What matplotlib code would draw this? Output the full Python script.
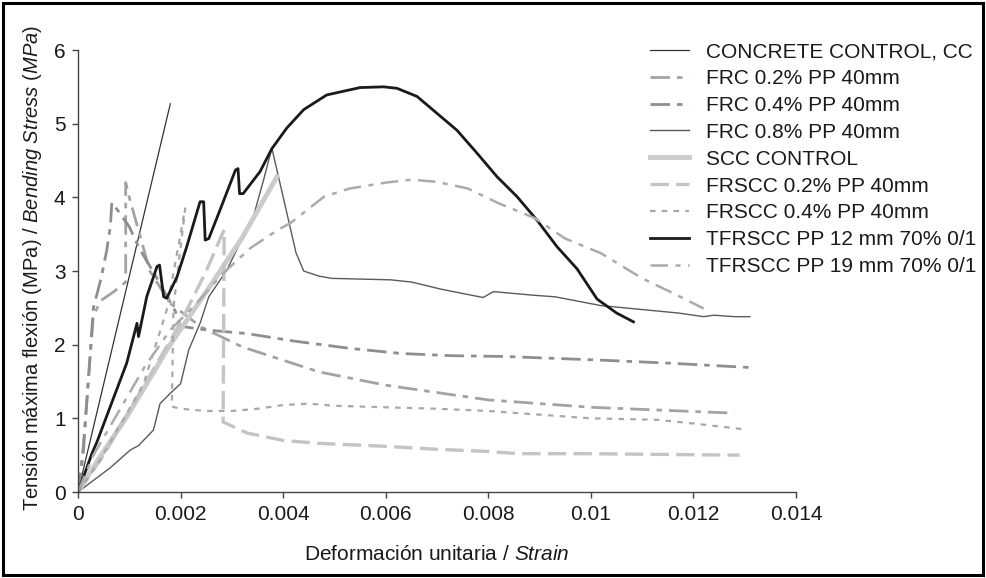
import matplotlib
matplotlib.use("Agg")
import matplotlib.pyplot as plt
from matplotlib.patches import Rectangle

plt.rcParams['font.family'] = ['Liberation Sans', 'DejaVu Sans']
plt.rcParams['mathtext.fontset'] = 'custom'
plt.rcParams['mathtext.rm'] = 'Liberation Sans'
plt.rcParams['mathtext.it'] = 'Liberation Sans:italic'

# ---------------- data ----------------
series_labels = ["CONCRETE CONTROL, CC", "FRC 0.2% PP 40mm", "FRC 0.4% PP 40mm",
                 "FRC 0.8% PP 40mm", "SCC CONTROL", "FRSCC 0.2% PP 40mm",
                 "FRSCC 0.4% PP 40mm", "TFRSCC PP 12 mm 70% 0/1", "TFRSCC PP 19 mm 70% 0/1"]

cc_x = [0, 0.0018]
cc_y = [0, 5.27]

frc02_x = [0, 0.0001, 0.0002, 0.0003, 0.00045, 0.0007, 0.00093, 0.00093, 0.001, 0.0012,
           0.0014, 0.0018, 0.0024, 0.0032, 0.0047, 0.006, 0.008, 0.010, 0.0128]
frc02_y = [0, 0.6, 1.5, 2.4, 2.6, 2.72, 2.85, 4.2, 4.0, 3.5,
           3.0, 2.56, 2.24, 1.97, 1.63, 1.45, 1.25, 1.15, 1.07]

frc04_x = [0, 0.0001, 0.00018, 0.00025, 0.0003, 0.00045, 0.00056, 0.00063, 0.00066, 0.0008,
           0.001, 0.0012, 0.0015, 0.0017, 0.0019, 0.002, 0.0025, 0.0033, 0.0042, 0.0053,
           0.0063, 0.0073, 0.0083, 0.0102, 0.0115, 0.0131]
frc04_y = [0, 0.5, 1.3, 2.0, 2.5, 2.9, 3.28, 3.6, 3.93, 3.8,
           3.6, 3.3, 2.95, 2.7, 2.45, 2.25, 2.2, 2.15, 2.05, 1.95,
           1.88, 1.85, 1.84, 1.79, 1.75, 1.69]

frc08_x = [0, 0.00063, 0.00102, 0.00118, 0.00147, 0.0016, 0.0018, 0.002, 0.00216, 0.00238,
           0.00255, 0.0029, 0.00316, 0.00342, 0.00362, 0.00378, 0.00425, 0.0044, 0.0047, 0.00495,
           0.0061, 0.0065, 0.0071, 0.0079, 0.0081, 0.0089, 0.0093, 0.0102, 0.0108, 0.0117,
           0.0122, 0.0124, 0.0128, 0.0131]
frc08_y = [0, 0.33, 0.57, 0.63, 0.84, 1.2, 1.34, 1.47, 1.93, 2.29,
           2.65, 3.01, 3.38, 3.74, 4.24, 4.67, 3.25, 3.0, 2.93, 2.90,
           2.88, 2.85, 2.75, 2.64, 2.72, 2.67, 2.65, 2.53, 2.49, 2.43,
           2.38, 2.40, 2.38, 2.38]

scc_x = [0, 0.00043, 0.00095, 0.00154, 0.00173, 0.00258, 0.0032, 0.00388]
scc_y = [0, 0.48, 1.02, 1.70, 1.93, 2.80, 3.45, 4.28]

frscc02_x = [0, 0.0005, 0.001, 0.0015, 0.002, 0.0025, 0.00285, 0.00283, 0.0033, 0.004,
             0.0047, 0.006, 0.007, 0.008, 0.0086, 0.010, 0.0129]
frscc02_y = [0, 0.5, 1.1, 1.7, 2.3, 3.0, 3.56, 0.95, 0.80, 0.70,
             0.66, 0.62, 0.58, 0.55, 0.52, 0.52, 0.50]

frscc04_x = [0, 0.00043, 0.00128, 0.00173, 0.00209, 0.00186, 0.00183, 0.002, 0.0025, 0.003,
             0.0035, 0.004, 0.0045, 0.005, 0.006, 0.007, 0.008, 0.009, 0.010, 0.0113,
             0.012, 0.013]
frscc04_y = [0, 0.43, 1.47, 2.47, 3.85, 2.5, 1.16, 1.13, 1.10, 1.10,
             1.13, 1.18, 1.20, 1.17, 1.15, 1.13, 1.10, 1.05, 1.0, 0.98,
             0.93, 0.85]

tf12_x = [0, 0.00011, 0.00027, 0.00037, 0.0007, 0.00095, 0.00115, 0.00118, 0.00134, 0.00154,
          0.00159, 0.00167, 0.00173, 0.00193, 0.00212, 0.00238, 0.00245, 0.00248, 0.00255, 0.00277,
          0.00307, 0.00312, 0.00315, 0.00322, 0.00355, 0.00378, 0.00407, 0.0044, 0.00485, 0.0055,
          0.00596, 0.00622, 0.00661, 0.007, 0.00739, 0.00778, 0.00817, 0.00856, 0.00895, 0.00934,
          0.00973, 0.01012, 0.0105, 0.01083]
tf12_y = [0, 0.21, 0.52, 0.68, 1.29, 1.75, 2.29, 2.11, 2.65, 3.06,
          3.08, 2.65, 2.63, 2.92, 3.33, 3.94, 3.94, 3.42, 3.44, 3.83,
          4.37, 4.39, 4.05, 4.05, 4.35, 4.66, 4.94, 5.19, 5.39, 5.49,
          5.50, 5.48, 5.37, 5.14, 4.91, 4.60, 4.28, 4.01, 3.69, 3.33,
          3.03, 2.62, 2.43, 2.31]

tf19_x = [0, 0.0003, 0.0008, 0.0013, 0.0018, 0.0023, 0.0028, 0.00336, 0.0039, 0.00414,
          0.0048, 0.0053, 0.006, 0.0065, 0.007, 0.0076, 0.0082, 0.0089, 0.0095, 0.0102,
          0.011, 0.0116, 0.0122]
tf19_y = [0, 0.5, 1.1, 1.7, 2.2, 2.55, 2.95, 3.31, 3.56, 3.65,
          4.01, 4.12, 4.20, 4.24, 4.21, 4.12, 3.92, 3.72, 3.44, 3.24,
          2.9, 2.7, 2.49]

x_ticks = [0, 0.002, 0.004, 0.006, 0.008, 0.010, 0.012, 0.014]
x_tick_labels = ["0", "0.002", "0.004", "0.006", "0.008", "0.01", "0.012", "0.014"]
y_ticks = [0, 1, 2, 3, 4, 5, 6]
y_tick_labels = ["0", "1", "2", "3", "4", "5", "6"]

# ---------------- figure ----------------
W, H = 986, 578
fig = plt.figure(figsize=(W / 100, H / 100), dpi=100)
ax = fig.add_axes([78 / W, 1 - 492 / H, (796 - 78) / W, (492 - 50) / H])

fs = 15
ax.plot(cc_x, cc_y, color='#333333', lw=0.9, label=series_labels[0])
ax.plot(frc02_x, frc02_y, color='#a3a3a3', lw=2.0, linestyle=(0, (7, 2.5, 2, 2.5)), label=series_labels[1])
ax.plot(frc04_x, frc04_y, color='#8e8e8e', lw=2.0, linestyle=(0, (7, 2.5, 2, 2.5)), label=series_labels[2])
ax.plot(frc08_x, frc08_y, color='#5a5a5a', lw=1.0, label=series_labels[3])
ax.plot(scc_x, scc_y, color='#cbcbcb', lw=3.5, label=series_labels[4])
ax.plot(frscc02_x, frscc02_y, color='#c4c4c4', lw=2.4, linestyle=(0, (5.5, 2.2)), label=series_labels[5])
ax.plot(frscc04_x, frscc04_y, color='#a8a8a8', lw=1.6, linestyle=(0, (2.5, 2.8)), label=series_labels[6])
ax.plot(tf12_x, tf12_y, color='#1a1a1a', lw=2.0, label=series_labels[7])
ax.plot(tf19_x, tf19_y, color='#ababab', lw=1.8, linestyle=(0, (7, 3, 2, 3)), label=series_labels[8])

ax.set_xlim(0, 0.014)
ax.set_ylim(0, 6)
ax.set_xticks(x_ticks)
ax.set_xticklabels(x_tick_labels)
ax.set_yticks(y_ticks)
ax.set_yticklabels(y_tick_labels)
for s in ['top', 'right']:
    ax.spines[s].set_visible(False)
for s in ['left', 'bottom']:
    ax.spines[s].set_color('#444444')
    ax.spines[s].set_linewidth(1.0)
ax.tick_params(axis='both', direction='out', length=4, width=1.0, color='#444444',
               labelsize=fs, labelcolor='#1a1a1a')
ax.tick_params(axis='x', pad=5)
ax.tick_params(axis='y', pad=5)
ax.patch.set_alpha(0)

fig.text(437 / W, 1 - 555 / H, r"Deformación unitaria / $\mathit{Strain}$",
         ha='center', va='center', fontsize=fs, color='#1a1a1a')
fig.text(33 / W, 1 - 268 / H,
         r"Tensión máxima flexión (MPa) / $\mathit{Bending\ Stress\ (MPa)}$",
         ha='center', va='center', rotation=90, fontsize=14.5, color='#1a1a1a')

leg = ax.legend(loc='upper left', bbox_to_anchor=(650 / W, 1 - 42 / H),
                bbox_transform=fig.transFigure, frameon=False, fontsize=fs,
                handlelength=1.85, handletextpad=0.85, labelspacing=0.38,
                borderpad=0, borderaxespad=0)
for t in leg.get_texts():
    t.set_color('#1a1a1a')

fig.patches.append(Rectangle((3 / W, 3 / H), (W - 6) / W, (H - 6) / H,
                             transform=fig.transFigure, fill=False,
                             edgecolor='black', linewidth=2.2))

fig.savefig("out.png", dpi=100)
